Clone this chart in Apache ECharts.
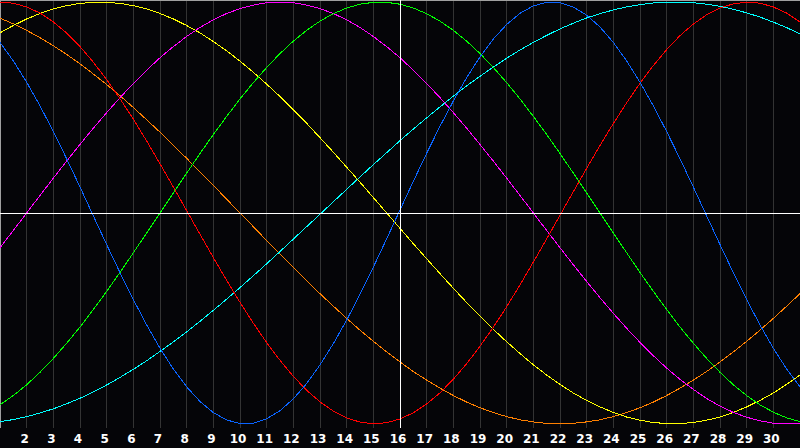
<!DOCTYPE html>
<html>
<head>
<meta charset="utf-8">
<script src="https://cdn.jsdelivr.net/npm/echarts@6/dist/echarts.min.js"></script>
<style>
html,body{margin:0;padding:0;background:#050508;}
#c{width:800px;height:448px;}
#c svg path{shape-rendering:crispEdges;}
</style>
</head>
<body>
<div id="c"></div>
<script>
const days = [1,1.5,2,2.5,3,3.5,4,4.5,5,5.5,6,6.5,7,7.5,8,8.5,9,9.5,10,10.5,11,11.5,12,12.5,13,13.5,14,14.5,15,15.5,16,16.5,17,17.5,18,18.5,19,19.5,20,20.5,21,21.5,22,22.5,23,23.5,24,24.5,25,25.5,26,26.5,27,27.5,28,28.5,29,29.5,30,30.5,31];
const today = 16;
const blue = [0.809,0.721,0.620,0.508,0.386,0.257,0.123,-0.014,-0.150,-0.283,-0.411,-0.531,-0.642,-0.740,-0.825,-0.894,-0.947,-0.982,-0.999,-0.997,-0.976,-0.938,-0.882,-0.809,-0.721,-0.620,-0.508,-0.386,-0.257,-0.123,0.014,0.150,0.283,0.411,0.531,0.642,0.740,0.825,0.894,0.947,0.982,0.999,0.997,0.976,0.938,0.882,0.809,0.721,0.620,0.508,0.386,0.257,0.123,-0.014,-0.150,-0.283,-0.411,-0.531,-0.642,-0.740,-0.825];
const red = [1.000,0.995,0.977,0.948,0.906,0.853,0.789,0.715,0.632,0.542,0.445,0.341,0.233,0.123,0.011,-0.101,-0.212,-0.320,-0.424,-0.523,-0.615,-0.699,-0.775,-0.841,-0.896,-0.940,-0.972,-0.992,-1.000,-0.995,-0.977,-0.948,-0.906,-0.853,-0.789,-0.715,-0.632,-0.542,-0.445,-0.341,-0.233,-0.123,-0.011,0.101,0.212,0.320,0.424,0.523,0.615,0.699,0.775,0.841,0.896,0.940,0.972,0.992,1.000,0.995,0.977,0.948,0.906];
const green = [-0.910,-0.866,-0.815,-0.756,-0.690,-0.618,-0.541,-0.458,-0.372,-0.282,-0.189,-0.095,0.000,0.095,0.189,0.282,0.372,0.458,0.541,0.618,0.690,0.756,0.815,0.866,0.910,0.945,0.972,0.990,0.999,0.999,0.990,0.972,0.945,0.910,0.866,0.815,0.756,0.690,0.618,0.541,0.458,0.372,0.282,0.189,0.095,0.000,-0.095,-0.189,-0.282,-0.372,-0.458,-0.541,-0.618,-0.690,-0.756,-0.815,-0.866,-0.910,-0.945,-0.972,-0.990];
const magenta = [-0.165,-0.083,0.000,0.083,0.165,0.246,0.325,0.402,0.476,0.547,0.614,0.677,0.736,0.789,0.837,0.880,0.916,0.946,0.969,0.986,0.997,1.000,0.997,0.986,0.969,0.946,0.916,0.880,0.837,0.789,0.736,0.677,0.614,0.547,0.476,0.402,0.325,0.246,0.165,0.083,0.000,-0.083,-0.165,-0.246,-0.325,-0.402,-0.476,-0.547,-0.614,-0.677,-0.736,-0.789,-0.837,-0.880,-0.916,-0.946,-0.969,-0.986,-0.997,-1.000,-0.997];
const yellow = [0.854,0.889,0.920,0.946,0.968,0.983,0.994,0.999,0.999,0.994,0.983,0.968,0.946,0.920,0.889,0.854,0.813,0.769,0.720,0.667,0.611,0.552,0.489,0.425,0.357,0.288,0.217,0.146,0.073,0.000,-0.073,-0.146,-0.217,-0.288,-0.357,-0.425,-0.489,-0.552,-0.611,-0.667,-0.720,-0.769,-0.813,-0.854,-0.889,-0.920,-0.946,-0.968,-0.983,-0.994,-0.999,-0.999,-0.994,-0.983,-0.968,-0.946,-0.920,-0.889,-0.854,-0.813,-0.769];
const orange = [0.924,0.897,0.866,0.831,0.793,0.752,0.707,0.659,0.609,0.556,0.500,0.442,0.383,0.321,0.259,0.195,0.131,0.065,0.000,-0.065,-0.131,-0.195,-0.259,-0.321,-0.383,-0.442,-0.500,-0.556,-0.609,-0.659,-0.707,-0.752,-0.793,-0.831,-0.866,-0.897,-0.924,-0.947,-0.966,-0.981,-0.991,-0.998,-1.000,-0.998,-0.991,-0.981,-0.966,-0.947,-0.924,-0.897,-0.866,-0.831,-0.793,-0.752,-0.707,-0.659,-0.609,-0.556,-0.500,-0.442,-0.383];
const cyan = [-0.990,-0.980,-0.966,-0.949,-0.929,-0.905,-0.879,-0.849,-0.816,-0.780,-0.742,-0.701,-0.657,-0.612,-0.564,-0.514,-0.462,-0.409,-0.354,-0.298,-0.241,-0.183,-0.124,-0.065,-0.006,0.053,0.112,0.171,0.229,0.286,0.343,0.398,0.451,0.503,0.554,0.603,0.648,0.692,0.734,0.773,0.809,0.842,0.873,0.900,0.925,0.945,0.963,0.977,0.988,0.996,0.999,1.000,0.997,0.990,0.980,0.966,0.949,0.929,0.905,0.879,0.849];

const curves = [
  {name:'orange', data:orange, color:'#ff8000'},
  {name:'cyan', data:cyan, color:'#00ffff'},
  {name:'yellow', data:yellow, color:'#ffff00'},
  {name:'magenta', data:magenta, color:'#ff00ff'},
  {name:'green', data:green, color:'#00ff00'},
  {name:'red', data:red, color:'#ff0000'},
  {name:'blue', data:blue, color:'#0a64ff'}
];

const series = curves.map(c => ({
  type:'line', name:c.name, smooth:false, symbol:'none', animation:false,
  data: days.map((d,i)=>[d, c.data[i]]),
  lineStyle:{color:c.color, width:1},
  z:3
}));
series.push({
  type:'line', data:[], symbol:'none', animation:false, z:2,
  markLine:{
    silent:true, symbol:['none','none'], animation:false,
    label:{show:false},
    lineStyle:{color:'#ffffff', width:1, type:'solid'},
    data:[{xAxis:today},{yAxis:0}]
  }
});

const chart = echarts.init(document.getElementById('c'), null, {renderer:'svg'});
chart.setOption({
  backgroundColor:'#050508',
  animation:false,
  grid:{left:0, right:0, top:0, bottom:20},
  xAxis:[{
    type:'value', min:1, max:31, interval:1, position:'bottom',
    axisLine:{show:true, lineStyle:{color:'#a0a0a0', width:1}},
    axisTick:{show:false},
    splitLine:{show:true, lineStyle:{color:'#333333', width:1}},
    axisLabel:{show:true, color:'#ffffff', fontWeight:'bold', fontSize:12, fontFamily:'DejaVu Sans', margin:5,
      padding:[0,4,0,0], showMinLabel:false, showMaxLabel:false}
  },{
    type:'value', min:1, max:31, position:'top',
    axisLine:{show:true, lineStyle:{color:'#a0a0a0', width:1}},
    axisTick:{show:false}, axisLabel:{show:false}, splitLine:{show:false}
  }],
  yAxis:{
    type:'value', min:-1.02, max:1.01,
    axisLine:{show:true, lineStyle:{color:'#a0a0a0', width:1}},
    axisTick:{show:false}, axisLabel:{show:false}, splitLine:{show:false}
  },
  series: series
});
</script>
</body>
</html>
